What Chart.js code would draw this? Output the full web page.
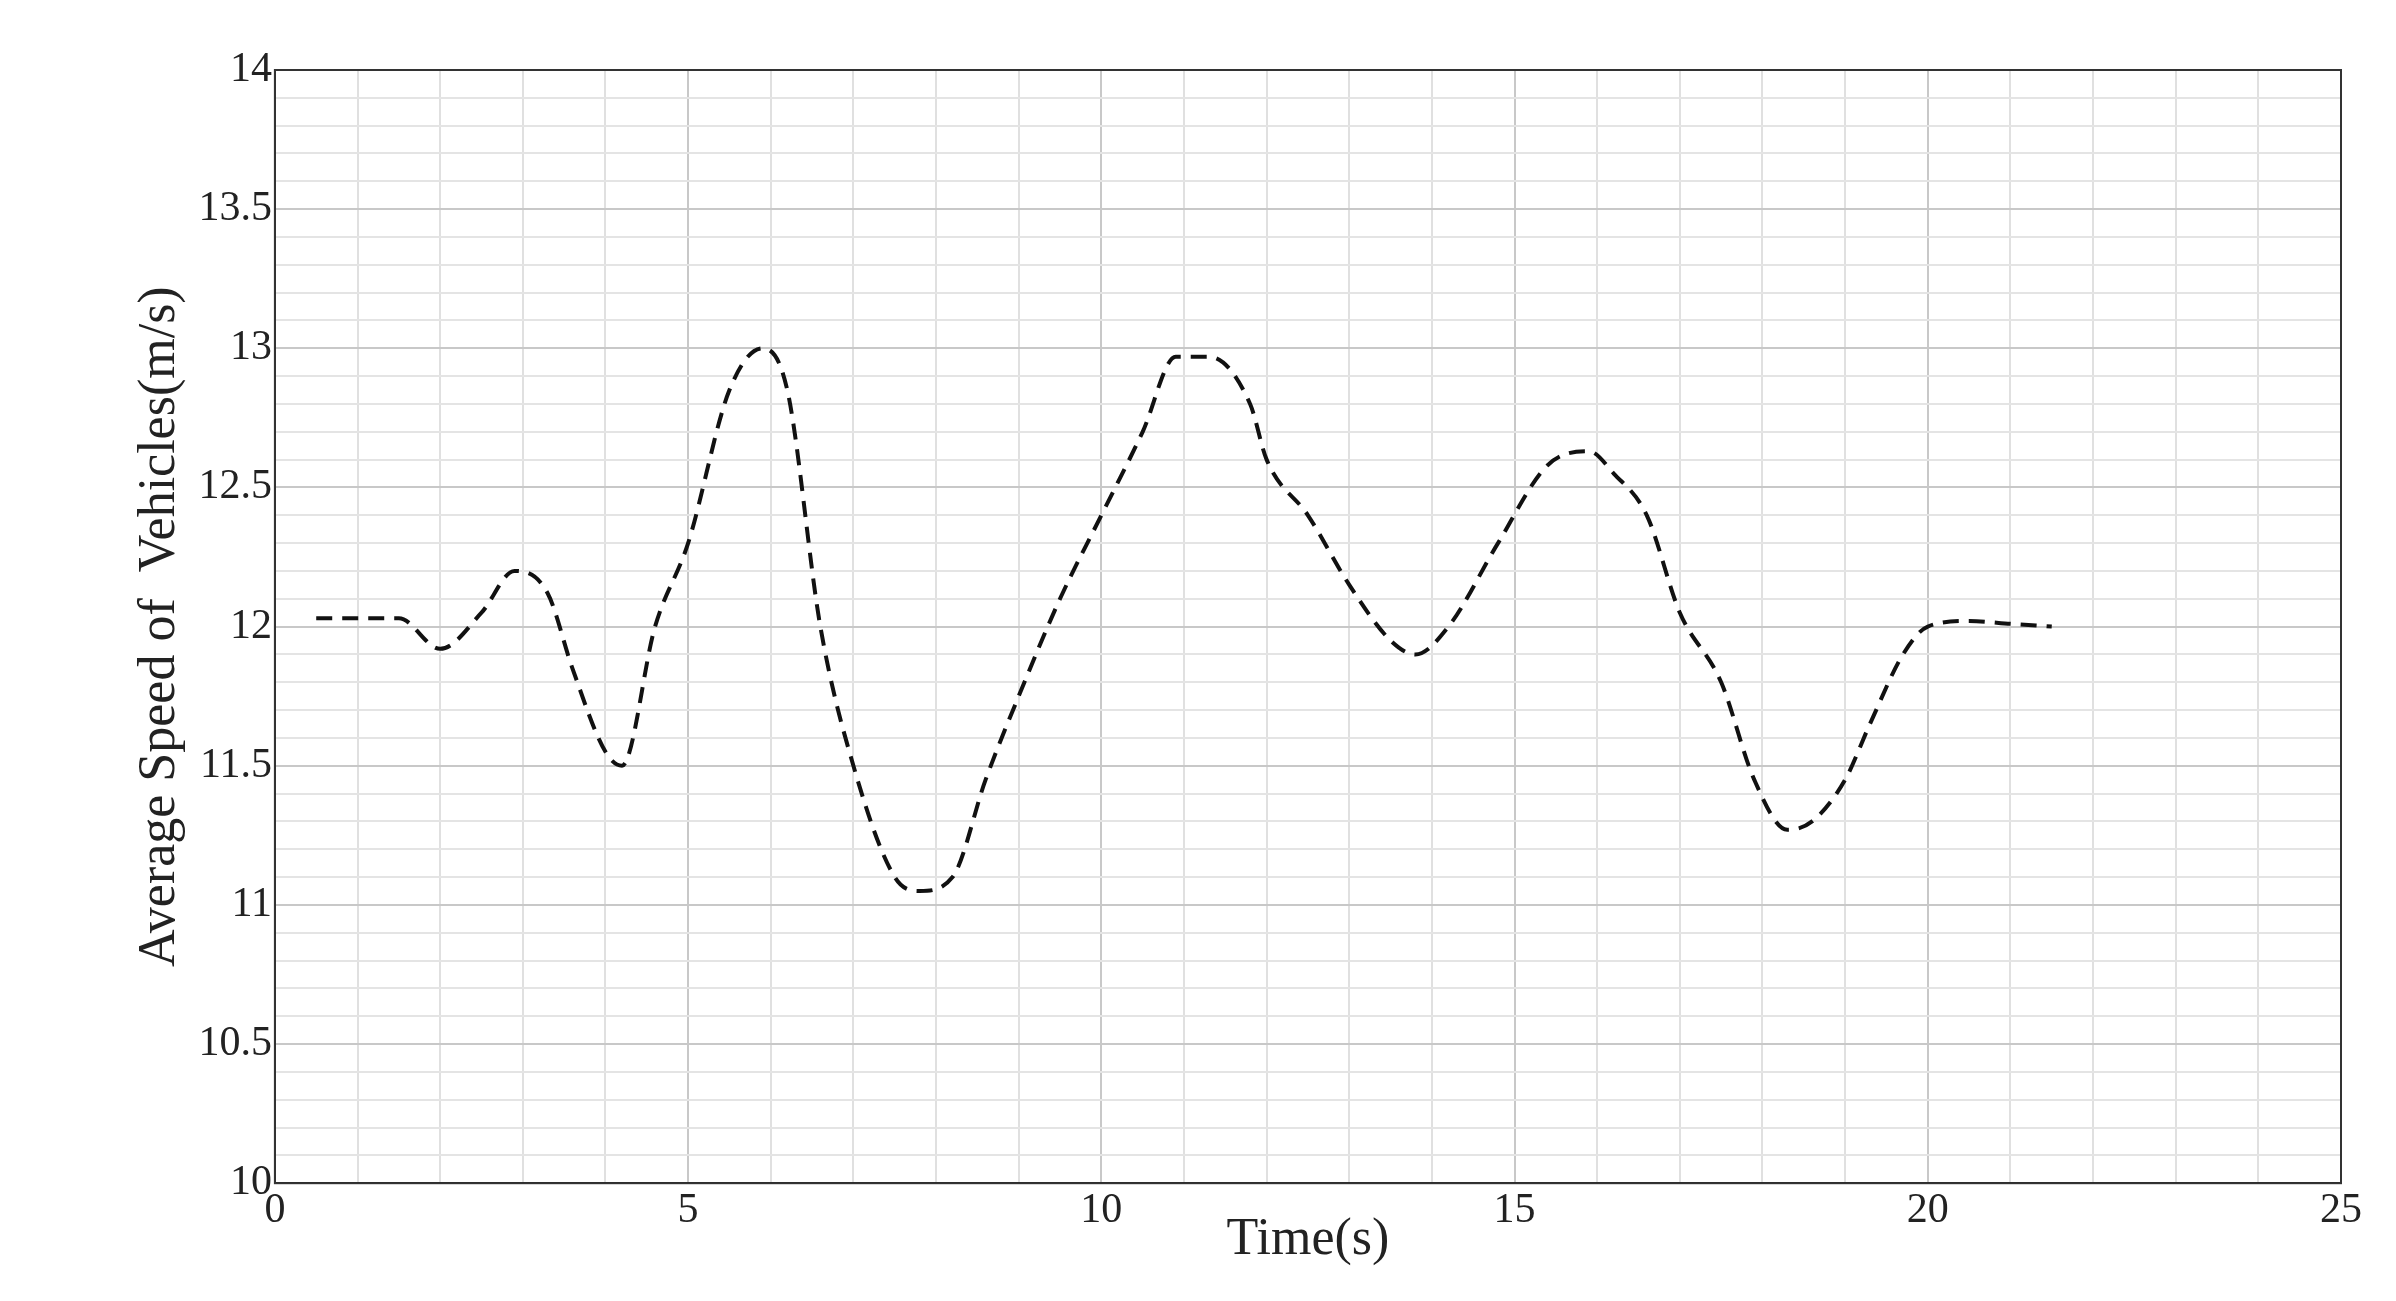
<!DOCTYPE html>
<html><head><meta charset="utf-8">
<script src="https://cdn.jsdelivr.net/npm/chart.js@4"></script>
<style>html,body{margin:0;background:#fff}#w{width:2396px;height:1301px}</style>
</head><body><div id="w"><canvas id="c"></canvas></div>
<script>
const times=[0.5,1,1.5,2,2.5,2.9,3.3,3.6,4,4.2,4.6,5,5.5,5.9,6.2,6.6,7,7.5,7.8,8.2,8.6,9,9.5,10,10.5,10.9,11.3,11.8,12,12.5,13,13.5,13.8,14.2,14.8,15.4,15.9,16.2,16.6,17,17.5,17.9,18.3,18.6,19,19.3,19.7,20,20.5,21,21.5];
const speeds=[12.03,12.03,12.03,11.92,12.05,12.2,12.12,11.85,11.55,11.5,12.0,12.3,12.85,13.0,12.85,12.0,11.5,11.1,11.05,11.1,11.45,11.75,12.1,12.4,12.7,12.97,12.97,12.8,12.6,12.4,12.15,11.95,11.9,12.0,12.3,12.58,12.63,12.55,12.4,12.05,11.8,11.45,11.27,11.3,11.45,11.65,11.9,12.0,12.02,12.01,12.0];
const font={family:'"Liberation Serif", serif',size:42};
const frame={id:'frame',afterDraw(ch){const a=ch.chartArea,x=ch.ctx;x.save();x.strokeStyle='#333';x.lineWidth=2;x.strokeRect(a.left,a.top,a.right-a.left,a.bottom-a.top);x.restore();}};
new Chart(document.getElementById('c'),{type:'line',
data:{datasets:[{data:times.map((t,i)=>({x:t,y:speeds[i]})),borderColor:'#111',borderWidth:4,borderDash:[16,10],pointRadius:0,tension:0.4,cubicInterpolationMode:'monotone'}]},
options:{responsive:true,maintainAspectRatio:false,animation:false,
layout:{padding:{top:70,right:55,left:125,bottom:25}},
plugins:{legend:{display:false},tooltip:{enabled:false}},
scales:{
x:{type:'linear',min:0,max:25,border:{color:'#222',width:2},
 ticks:{stepSize:1,autoSkip:false,maxRotation:0,font,color:'#222',callback:v=>v%5===0?v:''},
 grid:{color:c=>c.tick.value%5===0?'#c8c8c8':'#e0e0e0',lineWidth:2,tickLength:0,borderDash:[6,4]},
 title:{display:true,text:'Time(s)',font:{family:font.family,size:52},color:'#222',padding:{top:-30}}},
y:{min:10,max:14,border:{color:'#222',width:2},
 ticks:{stepSize:0.1,autoSkip:false,font,color:'#222',callback:v=>{const r=Math.round(v*10);return r%5===0?String(r/10):'';}},
 grid:{color:c=>Math.round(c.tick.value*10)%5===0?'#c8c8c8':'#e4e4e4',lineWidth:2,tickLength:0,borderDash:[6,4]},
 title:{display:true,text:'Average Speed of  Vehicles(m/s)',font:{family:font.family,size:52},color:'#222'}}
}},plugins:[frame]});
</script></body></html>
